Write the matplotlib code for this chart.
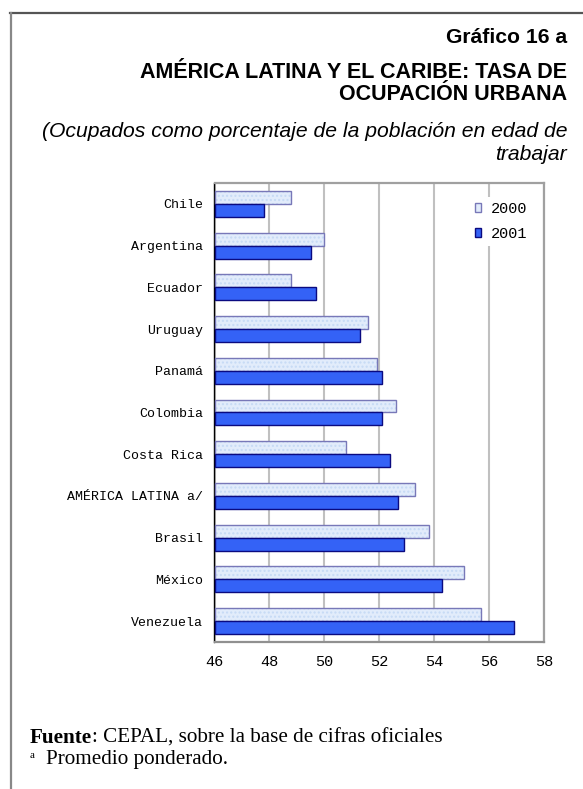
import matplotlib
matplotlib.use("Agg")
import matplotlib.pyplot as plt
from matplotlib.patches import Patch
from matplotlib.lines import Line2D

# ---- data ----
categories = ["Chile", "Argentina", "Ecuador", "Uruguay", "Panamá", "Colombia",
              "Costa Rica", "AMÉRICA LATINA a/", "Brasil", "México", "Venezuela"]
values_2000 = [48.8, 50.0, 48.8, 51.6, 51.9, 52.6, 50.8, 53.3, 53.8, 55.1, 55.7]
values_2001 = [47.8, 49.5, 49.7, 51.3, 52.1, 52.1, 52.4, 52.7, 52.9, 54.3, 56.9]
series_labels = ["2000", "2001"]
xticks = [46, 48, 50, 52, 54, 56, 58]

W, H = 583, 789
DPI = 100
fig = plt.figure(figsize=(W / DPI, H / DPI), dpi=DPI)

def fx(px):
    return px / W

def fy(py):
    return 1 - py / H

# outer frame
fig.add_artist(Line2D([fx(10), fx(583)], [fy(13), fy(13)], color="#555555", lw=1.6))
fig.add_artist(Line2D([fx(10.5), fx(10.5)], [fy(13), fy(789)], color="#888888", lw=1.6))

# axes
left, right, top, bottom = 214.5, 544, 183, 642
ax = fig.add_axes([fx(left), fy(bottom), fx(right - left), (bottom - top) / H])

h = 0.31
ypos = list(range(len(categories)))
y2000 = [y - h / 2 for y in ypos]
y2001 = [y + h / 2 for y in ypos]
base = xticks[0]

w2000 = [v - base for v in values_2000]
w2001 = [v - base for v in values_2001]

ax.barh(y2000, w2000, left=base, height=h, color="#e2ecfb", edgecolor="#c6daf5",
        hatch="....", linewidth=0, zorder=3)
ax.barh(y2000, w2000, left=base, height=h, facecolor="none", edgecolor="#7878b8",
        linewidth=1.0, zorder=4)
ax.barh(y2001, w2001, left=base, height=h, color="#3462f6", edgecolor="#0a0a80",
        linewidth=1.0, zorder=4)

ax.set_xlim(46, 58)
ax.set_ylim(len(categories) - 0.5, -0.5)
ax.set_xticks(xticks)
ax.set_xticklabels([str(t) for t in xticks], family="Liberation Mono", fontsize=11)
ax.set_yticks(ypos)
ax.set_yticklabels(categories, family="Liberation Mono", fontsize=9.5)
ax.tick_params(axis="both", length=0)
ax.tick_params(axis="y", pad=8)
ax.tick_params(axis="x", pad=9)

ax.grid(axis="x", color="#c0c0c0", lw=1.5, zorder=0)
ax.set_axisbelow(True)
for s in ["top", "right"]:
    ax.spines[s].set_color("#a0a0a0")
    ax.spines[s].set_linewidth(1.6)
ax.spines["bottom"].set_color("#909090")
ax.spines["bottom"].set_linewidth(1.6)
ax.spines["left"].set_color("#000000")
ax.spines["left"].set_linewidth(1.0)

handles = [Patch(facecolor="#e2ecfb", edgecolor="#7878b8", lw=1.0),
           Patch(facecolor="#3462f6", edgecolor="#0a0a80", lw=1.0)]
leg = ax.legend(handles, series_labels, loc="upper left",
                bbox_to_anchor=(fx(470), fy(197)), bbox_transform=fig.transFigure,
                prop={"family": "Liberation Mono", "size": 11},
                frameon=True, framealpha=1, edgecolor="white", fancybox=False,
                handlelength=0.45, handleheight=0.55, handletextpad=0.6,
                labelspacing=0.75, borderpad=0.3, borderaxespad=0)
leg.get_frame().set_linewidth(0)
leg.set_zorder(5)

# titles
fig.text(fx(567), fy(42.7), "Gráfico 16 a", ha="right", va="baseline",
         family="Liberation Sans", weight="bold", fontsize=15.2)
fig.text(fx(567), fy(78.5), "AMÉRICA LATINA Y EL CARIBE: TASA DE", ha="right",
         va="baseline", family="Liberation Sans", weight="bold", fontsize=15.5)
fig.text(fx(567), fy(100.5), "OCUPACIÓN URBANA", ha="right", va="baseline",
         family="Liberation Sans", weight="bold", fontsize=15.5)
fig.text(fx(567), fy(137), "(Ocupados como porcentaje de la población en edad de",
         ha="right", va="baseline", family="Liberation Sans", style="italic", fontsize=15.2)
fig.text(fx(567), fy(160.5), "trabajar", ha="right", va="baseline",
         family="Liberation Sans", style="italic", fontsize=15.2)

# footer
fs_foot = 15.2
t1 = fig.text(fx(30), fy(743), "Fuente", ha="left", va="baseline",
              family="Liberation Serif", weight="bold", fontsize=fs_foot)
renderer = fig.canvas.get_renderer()
bb = t1.get_window_extent(renderer=renderer)
fig.text(bb.x1 / W, fy(743), ": CEPAL, sobre la base de cifras oficiales",
         ha="left", va="baseline", family="Liberation Serif", fontsize=fs_foot)
fig.text(fx(30), fy(758.5), "a", ha="left", va="baseline", family="Liberation Serif", fontsize=8)
fig.text(fx(46.5), fy(764), "Promedio ponderado.", ha="left", va="baseline",
         family="Liberation Serif", fontsize=fs_foot)

fig.savefig("out.png", dpi=DPI)
